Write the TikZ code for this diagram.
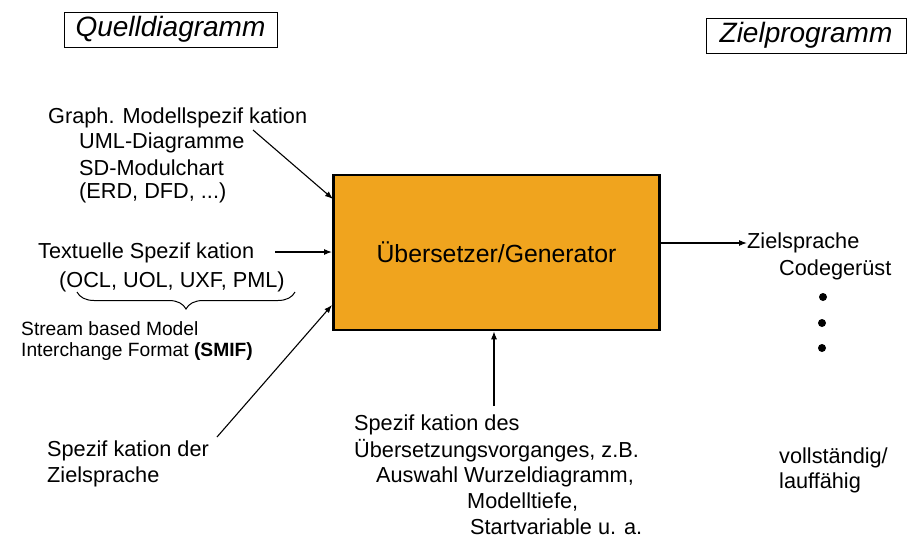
\documentclass[tikz,border=0pt]{standalone}
\usepackage{fontspec}
\setmainfont{Liberation Sans}
\usetikzlibrary{arrows.meta,decorations.pathreplacing}
\definecolor{boxorange}{RGB}{240,164,30}
\begin{document}
\begin{tikzpicture}[x=1pt,y=-1pt,
  txt/.style={anchor=west,inner sep=0pt,font=\fontsize{21.7}{25}\selectfont},
  small/.style={anchor=west,inner sep=0pt,font=\fontsize{19.2}{23}\selectfont},
  title/.style={draw,line width=0.9pt,inner sep=0pt,font=\fontsize{28}{30}\selectfont\itshape},
  conn/.style={line width=1.1pt,-{Latex[length=8pt,width=6pt]}},
  dotmark/.style={circle,fill=black,inner sep=0pt,minimum size=8pt}]
\useasboundingbox (0,0) rectangle (913,541);
% titles
\node[title,minimum width=213,minimum height=35] (qd) at (170.5,29.5) {Quelldiagramm};
\node[title,minimum width=200,minimum height=35] (zp) at (806,35.5) {Zielprogramm};
% main box
\node[draw,line width=2.6pt,fill=boxorange,minimum width=326,minimum height=155,
  font=\fontsize{24.8}{28}\selectfont] (box) at (496.5,252.5) {Übersetzer/Generator};
% upper left group
\node[txt] (g1) at (48,118) {Graph. Modellspezif kation};
\node[txt] (g2) at (79,143) {UML-Diagramme};
\node[txt] (g3) at (79,168) {SD-Modulchart};
\node[txt] (g4) at (79,193) {(ERD, DFD, ...)};
\coordinate (g1s) at (253,130);
\coordinate (g1e) at (333,199);
\draw[conn] (g1s) -- (g1e);
% textual spec
\node[txt] (t1) at (38,253) {Textuelle Spezif kation};
\node[txt] (t2) at (59,282) {(OCL, UOL, UXF, PML)};
\coordinate (t1s) at (275,252);
\coordinate (t1e) at (332,252);
\draw[conn] (t1s) -- (t1e);
\coordinate (br1) at (77,292);
\coordinate (br2) at (295,292);
\draw[line width=1pt,decorate,decoration={brace,mirror,amplitude=17pt}] (br1) -- (br2);
\node[small] (s1) at (21,329) {Stream based Model};
\node[small] (s2) at (21,352) {Interchange Format \textbf{(SMIF)}};
% target language spec
\node[txt] (z1) at (47,451) {Spezif kation der};
\node[txt] (z2) at (47,477) {Zielsprache};
\coordinate (z1s) at (217,437);
\coordinate (z1e) at (332,305);
\draw[conn] (z1s) -- (z1e);
% bottom group
\node[txt] (b1) at (354,425) {Spezif kation des};
\node[txt] (b2) at (354,451) {Übersetzungsvorganges, z.B.};
\node[txt] (b3) at (376,477) {Auswahl Wurzeldiagramm,};
\node[txt] (b4) at (467,502) {Modelltiefe,};
\node[txt] (b5) at (470,527) {Startvariable u. a.};
\coordinate (b1s) at (494,406);
\draw[conn] (b1s) -- (box.south -| b1s);
% right side
\node[txt] (r1) at (747,243) {Zielsprache};
\node[txt] (r2) at (779,270) {Codegerüst};
\draw[conn] (box.east |- r1) -- (r1.west);
\node[dotmark] (d1) at (823,297) {};
\node[dotmark] (d2) at (822,323) {};
\node[dotmark] (d3) at (822,348) {};
\node[txt] (v1) at (779,458) {vollständig/};
\node[txt] (v2) at (779,483) {lauffähig};
\end{tikzpicture}
\end{document}
